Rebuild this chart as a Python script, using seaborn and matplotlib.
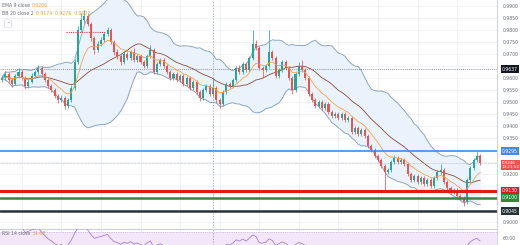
import numpy as np
import pandas as pd
import matplotlib
matplotlib.use("Agg")
import matplotlib.pyplot as plt
import seaborn as sns

# ---------------- data ----------------
first_open = 0.9592
closes = [0.9600, 0.9617, 0.9592, 0.9575, 0.9608, 0.9625, 0.9600, 0.9567, 0.9583, 0.9608,
          0.9625, 0.9642, 0.9617, 0.9592, 0.9567, 0.9550, 0.9525, 0.9508, 0.9517, 0.9483,
          0.9508, 0.9558, 0.9667, 0.9800, 0.9842, 0.9858, 0.9825, 0.9767, 0.9717, 0.9742,
          0.9758, 0.9783, 0.9800, 0.9750, 0.9708, 0.9692, 0.9667, 0.9700, 0.9683, 0.9708,
          0.9675, 0.9692, 0.9667, 0.9650, 0.9692, 0.9717, 0.9625, 0.9658, 0.9675, 0.9650,
          0.9625, 0.9600, 0.9617, 0.9592, 0.9608, 0.9575, 0.9600, 0.9558, 0.9583, 0.9542,
          0.9517, 0.9550, 0.9567, 0.9533, 0.9558, 0.9508, 0.9492, 0.9542, 0.9575, 0.9567,
          0.9592, 0.9642, 0.9625, 0.9658, 0.9633, 0.9683, 0.9742, 0.9725, 0.9642, 0.9633,
          0.9650, 0.9708, 0.9683, 0.9608, 0.9633, 0.9667, 0.9642, 0.9600, 0.9550, 0.9617,
          0.9650, 0.9633, 0.9600, 0.9533, 0.9508, 0.9483, 0.9500, 0.9475, 0.9492, 0.9458,
          0.9442, 0.9450, 0.9433, 0.9450, 0.9425, 0.9433, 0.9375, 0.9392, 0.9367, 0.9383,
          0.9358, 0.9317, 0.9300, 0.9275, 0.9258, 0.9233, 0.9208, 0.9217, 0.9250, 0.9267,
          0.9250, 0.9258, 0.9242, 0.9200, 0.9175, 0.9192, 0.9167, 0.9183, 0.9158, 0.9175,
          0.9150, 0.9183, 0.9208, 0.9217, 0.9167, 0.9142, 0.9125, 0.9133, 0.9108, 0.9100,
          0.9083, 0.9175, 0.9225, 0.9258, 0.9275, 0.9246]
highs = [0.9612, 0.9630, 0.9625, 0.9600, 0.9617, 0.9640, 0.9633, 0.9608, 0.9595, 0.9620,
         0.9635, 0.9655, 0.9650, 0.9625, 0.9600, 0.9575, 0.9558, 0.9533, 0.9530, 0.9525,
         0.9517, 0.9570, 0.9680, 0.9815, 0.9870, 0.9883, 0.9870, 0.9833, 0.9775, 0.9755,
         0.9770, 0.9792, 0.9812, 0.9808, 0.9760, 0.9720, 0.9700, 0.9712, 0.9710, 0.9717,
         0.9725, 0.9700, 0.9700, 0.9675, 0.9700, 0.9738, 0.9725, 0.9667, 0.9683, 0.9683,
         0.9658, 0.9633, 0.9625, 0.9625, 0.9617, 0.9617, 0.9608, 0.9608, 0.9592, 0.9592,
         0.9550, 0.9558, 0.9575, 0.9575, 0.9600, 0.9567, 0.9517, 0.9550, 0.9583, 0.9585,
         0.9600, 0.9650, 0.9655, 0.9667, 0.9667, 0.9692, 0.9800, 0.9758, 0.9733, 0.9650,
         0.9660, 0.9800, 0.9717, 0.9692, 0.9642, 0.9675, 0.9675, 0.9650, 0.9608, 0.9625,
         0.9667, 0.9675, 0.9642, 0.9608, 0.9542, 0.9517, 0.9508, 0.9508, 0.9500, 0.9500,
         0.9467, 0.9458, 0.9458, 0.9458, 0.9458, 0.9442, 0.9442, 0.9400, 0.9400, 0.9392,
         0.9392, 0.9367, 0.9325, 0.9308, 0.9283, 0.9267, 0.9242, 0.9225, 0.9258, 0.9280,
         0.9275, 0.9267, 0.9267, 0.9250, 0.9208, 0.9200, 0.9200, 0.9192, 0.9192, 0.9183,
         0.9183, 0.9192, 0.9217, 0.9240, 0.9225, 0.9175, 0.9150, 0.9142, 0.9142, 0.9117,
         0.9108, 0.9183, 0.9233, 0.9267, 0.9295, 0.9285]
lows = [0.9583, 0.9592, 0.9580, 0.9562, 0.9570, 0.9600, 0.9590, 0.9555, 0.9558, 0.9578,
        0.9600, 0.9617, 0.9608, 0.9583, 0.9558, 0.9540, 0.9515, 0.9495, 0.9500, 0.9470,
        0.9475, 0.9500, 0.9550, 0.9660, 0.9790, 0.9830, 0.9815, 0.9755, 0.9700, 0.9708,
        0.9733, 0.9750, 0.9775, 0.9740, 0.9695, 0.9680, 0.9655, 0.9660, 0.9675, 0.9675,
        0.9665, 0.9667, 0.9658, 0.9640, 0.9642, 0.9683, 0.9615, 0.9617, 0.9650, 0.9642,
        0.9617, 0.9592, 0.9592, 0.9583, 0.9583, 0.9567, 0.9567, 0.9550, 0.9550, 0.9533,
        0.9505, 0.9508, 0.9542, 0.9525, 0.9525, 0.9495, 0.9475, 0.9483, 0.9533, 0.9558,
        0.9558, 0.9583, 0.9615, 0.9617, 0.9625, 0.9625, 0.9675, 0.9715, 0.9633, 0.9600,
        0.9625, 0.9642, 0.9675, 0.9600, 0.9600, 0.9625, 0.9633, 0.9592, 0.9533, 0.9542,
        0.9608, 0.9625, 0.9592, 0.9525, 0.9500, 0.9475, 0.9475, 0.9467, 0.9467, 0.9450,
        0.9433, 0.9433, 0.9425, 0.9425, 0.9417, 0.9417, 0.9367, 0.9367, 0.9358, 0.9358,
        0.9350, 0.9308, 0.9292, 0.9267, 0.9250, 0.9225, 0.9135, 0.9200, 0.9208, 0.9242,
        0.9242, 0.9242, 0.9233, 0.9192, 0.9167, 0.9167, 0.9158, 0.9158, 0.9150, 0.9150,
        0.9142, 0.9142, 0.9175, 0.9200, 0.9158, 0.9133, 0.9117, 0.9117, 0.9100, 0.9092,
        0.9067, 0.9075, 0.9167, 0.9217, 0.9250, 0.9238]

price_ticks = [0.9000, 0.9050, 0.9100, 0.9150, 0.9200, 0.9250, 0.9300, 0.9350, 0.9400,
               0.9450, 0.9500, 0.9550, 0.9600, 0.9650, 0.9700, 0.9750, 0.9800, 0.9850, 0.9900]
level_blue = 0.9295
level_red = 0.9130
level_green = 0.9100
level_dark = 0.9045
crosshair_price = 0.9637
crosshair_index = 64
dotted_level = 0.9792
dotted_span = [19.5, 31.5]
countdown = "13:21:53"
ema_period = 9
bb_period = 20
bb_mult = 2
rsi_period = 14
rsi_ticks = [60]

# ---------------- derived series ----------------
n = len(closes)
df = pd.DataFrame({"idx": np.arange(n), "close": closes, "high": highs, "low": lows})
df["open"] = [first_open] + closes[:-1]
df["ema"] = df["close"].ewm(span=ema_period, adjust=False).mean()
df["basis"] = df["close"].rolling(bb_period, min_periods=1).mean()
sd = df["close"].rolling(bb_period, min_periods=1).std(ddof=0)
df["upper"] = df["basis"] + bb_mult * sd
df["lower"] = df["basis"] - bb_mult * sd
delta = df["close"].diff()
gain = delta.clip(lower=0).ewm(alpha=1 / rsi_period, adjust=False).mean()
loss = (-delta.clip(upper=0)).ewm(alpha=1 / rsi_period, adjust=False).mean()
df["rsi"] = 100 - 100 / (1 + gain / loss)

# ---------------- figure ----------------
sns.set_theme(style="white")
plt.rcParams["font.family"] = ["DejaVu Sans"]
W, H = 520, 245
fig = plt.figure(figsize=(W / 100, H / 100), dpi=100)
fig.patch.set_facecolor("white")
ax = fig.add_axes([0, 17 / H, 497 / W, 228 / H])
ax2 = fig.add_axes([0, 0, 497 / W, 16 / H])

xlim = (-0.61, 150.1)
ax.set_xlim(*xlim)
ax.set_ylim(0.8975, 0.9925)
ax2.set_xlim(*xlim)
ax2.set_ylim(48, 75)

GREEN, RED = "#26a69a", "#ef5350"
grid_c = "#eef0f5"

for a in (ax, ax2):
    a.set_facecolor("white")
    a.set_xticks(np.arange(6, 150, 12))
    a.tick_params(axis="x", length=0, labelbottom=False)
    a.grid(True, color=grid_c, lw=0.6)
    for s in ("top", "left", "bottom"):
        a.spines[s].set_visible(False)
    a.spines["right"].set_color("#c9ccd6")
    a.spines["right"].set_linewidth(0.6)
    a.yaxis.tick_right()
    a.tick_params(axis="y", length=0, pad=4, labelsize=3.3, labelcolor="#6b6f7a")
ax2.spines["top"].set_visible(True)
ax2.spines["top"].set_color("#c9ccd6")
ax2.spines["top"].set_linewidth(0.8)

tagged = [crosshair_price, level_blue, closes[-1], level_red, level_green, level_dark]
ax.set_yticks(price_ticks)
ax.set_yticklabels([f"{t:.4f}" if min(abs(t - g) for g in tagged) > 0.0021 else ""
                    for t in price_ticks])
ax2.set_yticks(rsi_ticks)
ax2.set_yticklabels([f"{t:.2f}" for t in rsi_ticks])

# Bollinger bands
ax.fill_between(df["idx"], df["lower"], df["upper"], color="#eaf2fb", lw=0, zorder=1)
band_c = "#8fa6bd"
sns.lineplot(x=df["idx"], y=df["upper"], ax=ax, color=band_c, lw=0.7, zorder=2)
sns.lineplot(x=df["idx"], y=df["lower"], ax=ax, color=band_c, lw=0.7, zorder=2)
sns.lineplot(x=df["idx"], y=df["basis"], ax=ax, color="#8d4a3c", lw=0.6, zorder=2)

# candles
up = df["close"] >= df["open"]
cols = np.where(up, GREEN, RED)
body_lo = np.minimum(df["open"], df["close"])
body_h = np.maximum(np.abs(df["close"] - df["open"]), 0.00025)
ax.vlines(df["idx"], df["low"], df["high"], color=cols, lw=0.55, zorder=3)
ax.bar(df["idx"], body_h, bottom=body_lo, width=0.62, color=cols, lw=0, zorder=3)

# EMA
sns.lineplot(x=df["idx"], y=df["ema"], ax=ax, color="#f7a24b", lw=0.6, zorder=4)

# crosshair & dotted lines
ax.axhline(crosshair_price, color="#6b6f7a", lw=0.5, ls=(0, (1.5, 1.5)), zorder=2)
ax.axvline(crosshair_index, color="#9598a1", lw=0.5, ls=(0, (2, 2)), zorder=2)
ax2.axvline(crosshair_index, color="#9598a1", lw=0.5, ls=(0, (2, 2)), zorder=2)
ax.hlines(dotted_level, dotted_span[0], dotted_span[1], color="#e0443e", lw=0.8,
          ls=(0, (1, 1)), zorder=4)
last = closes[-1]
ax.axhline(last, color="#b2b5be", lw=0.5, ls=(0, (1, 1)), zorder=2)

# horizontal levels
ax.axhline(level_blue, color="#4a86e8", lw=1.2, zorder=5)
ax.axhline(level_red, color="#e3191c", lw=2.2, zorder=5)
ax.axhline(level_green, color="#2f8a3b", lw=1.8, zorder=5)
ax.axhline(level_dark, color="#263238", lw=1.8, zorder=5)

# right-axis labels
tr = ax.get_yaxis_transform()
def tag(y, txt, fc, fs=3.3):
    ax.text(1.01, y, txt, transform=tr, fontsize=fs, color="white", va="center", ha="left",
            linespacing=1.1,
            bbox=dict(boxstyle="square,pad=0.3", fc=fc, ec="none"), clip_on=False, zorder=10)

tag(crosshair_price, f"{crosshair_price:.4f}", "#131722")
tag(level_blue, f"{level_blue:.4f}", "#4a86e8")
tag(last - 0.0008, f"{last:.4f}\n{countdown}", "#ef5350", fs=2.9)
tag(level_red, f"{level_red:.4f}", "#e3191c")
tag(level_green, f"{level_green:.4f}", "#2f8a3b")
tag(level_dark, f"{level_dark:.4f}", "#263238")

# legend texts
fs = 3.3
ax.text(0.004, 0.985, "EMA 9 close", transform=ax.transAxes, fontsize=fs, color="#6b6f7a",
        va="top", ha="left")
ax.text(0.064, 0.985, f"{df['ema'].iloc[-1]:.4f}", transform=ax.transAxes, fontsize=fs,
        color="#f7a24b", va="top", ha="left")
ax.text(0.004, 0.95, "BB 20 close 2", transform=ax.transAxes, fontsize=fs, color="#6b6f7a",
        va="top", ha="left")
ax.text(0.072, 0.95,
        f"{df['basis'].iloc[-1]:.4f}  {df['upper'].iloc[-1]:.4f}  {df['lower'].iloc[-1]:.4f}",
        transform=ax.transAxes, fontsize=fs, color="#e6a23c", va="top", ha="left")
ax.text(0.016, 0.905, "^", transform=ax.transAxes, fontsize=3.2, color="#6b6f7a",
        va="top", ha="center",
        bbox=dict(boxstyle="round,pad=0.4", fc="white", ec="#d1d4dc", lw=0.4))

# RSI panel
ax2.axhspan(30, 70, color="#f3e6f8", lw=0, zorder=1)
ax2.axhline(70, color="#b9a6c9", lw=0.4, ls=(0, (2, 2)), zorder=2)
sns.lineplot(x=df["idx"], y=df["rsi"], ax=ax2, color="#a77fd6", lw=0.6, zorder=3)
ax2.text(0.004, 0.85, "RSI 14 close", transform=ax2.transAxes, fontsize=fs, color="#6b6f7a",
         va="top", ha="left")
ax2.text(0.066, 0.85, f"{df['rsi'].iloc[-1]:.2f}", transform=ax2.transAxes, fontsize=fs,
         color="#e6a23c", va="top", ha="left")

for a in (ax, ax2):
    a.set_xlabel("")
    a.set_ylabel("")

fig.savefig("out.png", dpi=100)
